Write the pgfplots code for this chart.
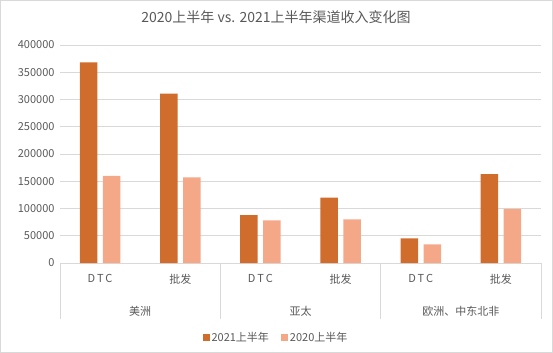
\documentclass[border=0pt]{standalone}
\usepackage{fontspec}
\setmainfont{Noto Sans CJK SC}
\usepackage{pgfplots}
\pgfplotsset{compat=1.18}
\definecolor{c21}{RGB}{208,108,44}
\definecolor{c20}{RGB}{244,168,136}
\definecolor{txt}{RGB}{89,89,89}
\definecolor{gridc}{RGB}{217,217,217}
\begin{document}
\begin{tikzpicture}
\path[use as bounding box] (0,0) rectangle (553bp,353bp);
\draw[gridc,line width=0.8bp] (0.5bp,0.5bp) rectangle (552.5bp,352.5bp);
\node[txt,font=\fontsize{14bp}{16bp}\selectfont] at (276bp,336bp) {2020上半年 vs. 2021上半年渠道收入变化图};
\begin{axis}[
  at={(60bp,90bp)}, anchor=south west,
  scale only axis, width=481bp, height=218bp,
  xmin=-0.5, xmax=5.5, ymin=0, ymax=400000,
  ytick={0,50000,100000,150000,200000,250000,300000,350000,400000},
  yticklabels={0,50000,100000,150000,200000,250000,300000,350000,400000},
  scaled y ticks=false,
  ymajorgrids, grid style={gridc, line width=0.8bp},
  axis line style={draw=none},
  major tick length=0pt,
  xtick={0,1,2,3,4,5},
  xticklabels={D\,T\,C,批发,D\,T\,C,批发,D\,T\,C,批发},
  x tick label style={yshift=-8bp},
  yticklabel style={xshift=-2bp},
  tick label style={txt, font=\fontsize{11bp}{13bp}\selectfont},
  ybar, bar width=17.5bp,
  clip=false,
  legend style={at={(0.449,-0.34)}, anchor=center, draw=none, legend columns=2,
    font=\fontsize{11bp}{13bp}\selectfont, text=txt,
    /tikz/every even column/.append style={column sep=10bp}},
  legend image code/.code={\fill[#1] (0bp,-3.5bp) rectangle (7bp,3.5bp);},
]
\addplot[fill=c21, draw=none, bar shift=-11.5bp] coordinates {(0,368000) (1,311000) (2,88000) (3,120000) (4,45000) (5,163000)};
\addlegendentry{2021上半年}
\addplot[fill=c20, draw=none, bar shift=11.5bp] coordinates {(0,160000) (1,157000) (2,78000) (3,80000) (4,34000) (5,99500)};
\addlegendentry{2020上半年}
\draw[gridc, line width=0.8bp] (axis cs:-0.5,0) -- ([yshift=-56bp]axis cs:-0.5,0);
\draw[gridc, line width=0.8bp] (axis cs:1.5,0) -- ([yshift=-56bp]axis cs:1.5,0);
\draw[gridc, line width=0.8bp] (axis cs:3.5,0) -- ([yshift=-56bp]axis cs:3.5,0);
\draw[gridc, line width=0.8bp] (axis cs:5.5,0) -- ([yshift=-56bp]axis cs:5.5,0);
\node[txt, font=\fontsize{11bp}{13bp}\selectfont] at ([yshift=-48bp]axis cs:0.5,0) {美洲};
\node[txt, font=\fontsize{11bp}{13bp}\selectfont] at ([yshift=-48bp]axis cs:2.5,0) {亚太};
\node[txt, font=\fontsize{11bp}{13bp}\selectfont] at ([yshift=-48bp]axis cs:4.5,0) {欧洲、中东北非};
\end{axis}
\end{tikzpicture}
\end{document}
